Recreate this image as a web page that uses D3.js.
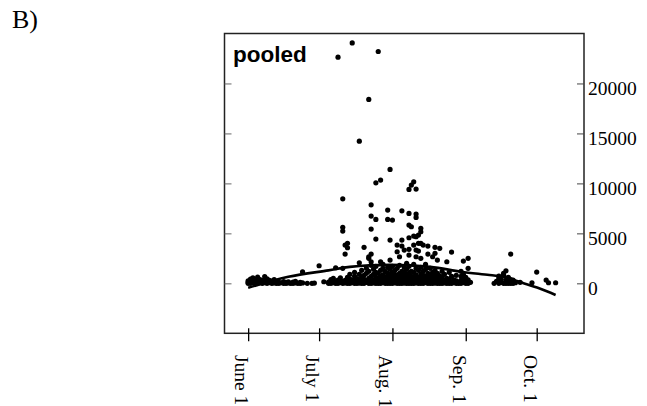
<!DOCTYPE html>
<html>
<head>
<meta charset="utf-8">
<script src="https://cdn.jsdelivr.net/npm/d3@7"></script>
<style>
  body { margin: 0; background: #fff; }
  svg { display: block; }
</style>
</head>
<body>
<svg id="chart" width="647" height="406"></svg>
<script>
// observations per sampling day: [date, counts]
const obs = [
  ['Jun 1', [0, 120, 260]],
  ['Jun 2', [0, 180, 420]],
  ['Jun 3', [40, 300, 560]],
  ['Jun 4', [0, 150, 340]],
  ['Jun 5', [0, 230, 620]],
  ['Jun 6', [90, 380]],
  ['Jun 7', [0, 210, 310]],
  ['Jun 8', [60, 330, 680]],
  ['Jun 9', [0, 160, 450]],
  ['Jun 10', [80, 290]],
  ['Jun 11', [0, 220]],
  ['Jun 12', [40, 380]],
  ['Jun 13', [0, 140]],
  ['Jun 14', [0, 90]],
  ['Jun 15', [60]],
  ['Jun 16', [0, 180]],
  ['Jun 17', [0, 110]],
  ['Jun 18', [40, 160]],
  ['Jun 19', [0]],
  ['Jun 20', [0, 120]],
  ['Jun 21', [50, 200]],
  ['Jun 22', [0]],
  ['Jun 23', [0, 90]],
  ['Jun 24', [1150, 40]],
  ['Jun 26', [0]],
  ['Jun 28', [0]],
  ['Jun 29', [30]],
  ['Jul 1', [1760]],
  ['Jul 3', [160]],
  ['Jul 5', [0, 120]],
  ['Jul 6', [0, 200, 380]],
  ['Jul 7', [60, 260, 500]],
  ['Jul 8', [0, 150, 1560]],
  ['Jul 9', [0, 320, 22630]],
  ['Jul 10', [80, 240, 560]],
  ['Jul 11', [0, 180, 1500, 5230, 5600, 8460]],
  ['Jul 12', [40, 300, 2930, 3830]],
  ['Jul 13', [0, 220, 600, 3560, 4000]],
  ['Jul 14', [0, 150, 420, 900]],
  ['Jul 15', [60, 330, 24060]],
  ['Jul 16', [0, 260, 700, 1100]],
  ['Jul 17', [0, 120, 480]],
  ['Jul 18', [30, 350, 900, 2060, 14230]],
  ['Jul 19', [0, 200, 620, 1300]],
  ['Jul 20', [0, 400, 800, 3600]],
  ['Jul 21', [90, 280, 1000, 1500]],
  ['Jul 22', [0, 500, 1200, 2500, 2660, 18400]],
  ['Jul 23', [0, 150, 700, 1800, 2160, 2930, 5430, 6730, 7860]],
  ['Jul 24', [40, 360, 900, 1400]],
  ['Jul 25', [0, 250, 600, 1100, 1700, 4430, 6400, 10060]],
  ['Jul 26', [0, 450, 1000, 23200]],
  ['Jul 27', [0, 180, 700, 1300, 2160, 10330]],
  ['Jul 28', [60, 400, 850, 1500, 1900]],
  ['Jul 29', [0, 300, 650, 1200]],
  ['Jul 30', [0, 120, 550, 1000, 1600, 6400, 7330]],
  ['Jul 31', [0, 350, 800, 1400, 2330, 4330, 11400]],
  ['Aug 1', [0, 200, 600, 1100, 1700, 6330]],
  ['Aug 2', [50, 400, 900, 1300]],
  ['Aug 3', [0, 250, 700, 1500, 3160, 3830]],
  ['Aug 4', [0, 150, 500, 1000, 1800, 2660]],
  ['Aug 5', [0, 350, 800, 1200, 3730, 4330, 7260]],
  ['Aug 6', [30, 200, 600, 1100, 1600, 3330]],
  ['Aug 7', [0, 450, 900, 1400, 2000]],
  ['Aug 8', [0, 100, 550, 1000, 1700, 2830, 3400, 4560, 5830, 7000, 9400]],
  ['Aug 9', [0, 300, 700, 1200, 5660, 9830]],
  ['Aug 10', [0, 180, 650, 1100, 1900, 3830, 4730, 10160]],
  ['Aug 11', [40, 400, 850, 1500, 2660, 3330, 4660, 6600, 6930, 9430]],
  ['Aug 12', [0, 250, 600, 1300, 3230, 4000, 4830]],
  ['Aug 13', [0, 120, 500, 950, 1600, 2500, 4000, 5160, 5500]],
  ['Aug 14', [0, 350, 800, 1200, 3830]],
  ['Aug 15', [60, 280, 700, 1400, 1900]],
  ['Aug 16', [0, 150, 600, 1000, 2930, 3730]],
  ['Aug 17', [0, 400, 900, 1500]],
  ['Aug 18', [0, 220, 650, 1100, 2660]],
  ['Aug 19', [30, 300, 800, 1300, 3000, 3600]],
  ['Aug 20', [0, 180, 500, 1000, 2330]],
  ['Aug 21', [0, 350, 750, 3500]],
  ['Aug 22', [0, 150, 600, 1200]],
  ['Aug 23', [40, 300, 900]],
  ['Aug 24', [0, 200, 500, 2160]],
  ['Aug 25', [0, 400, 1100]],
  ['Aug 26', [0, 150, 700, 3130]],
  ['Aug 27', [60, 350]],
  ['Aug 28', [0, 250, 800]],
  ['Aug 29', [0, 120]],
  ['Aug 30', [0, 300, 700, 1200]],
  ['Aug 31', [80, 500, 900, 2230]],
  ['Sep 1', [0, 200, 600]],
  ['Sep 2', [0, 350, 1500, 2500]],
  ['Sep 3', [100]],
  ['Sep 13', [0]],
  ['Sep 14', [200]],
  ['Sep 15', [0, 500, 730]],
  ['Sep 16', [100, 400]],
  ['Sep 17', [0, 830, 1000]],
  ['Sep 18', [0, 330, 1260]],
  ['Sep 19', [0, 150, 600]],
  ['Sep 20', [0, 330, 2930]],
  ['Sep 21', [0, 330]],
  ['Sep 22', [60]],
  ['Sep 24', [100]],
  ['Sep 29', [60]],
  ['Oct 1', [1130]],
  ['Oct 5', [330]],
  ['Oct 6', [60]],
  ['Oct 9', [60]]
];

// fitted seasonal curve
const fitDates = ['Jun 1', 'Jun 18', 'Jul 5', 'Jul 14', 'Jul 31', 'Aug 17', 'Aug 30', 'Sep 11', 'Sep 19', 'Sep 23', 'Oct 2', 'Oct 9'];
const fitValues = [-450, 650, 1300, 1650, 1850, 1650, 1160, 830, 580, 200, -500, -1170];

const xTickDates = ['Jun 1', 'Jul 1', 'Aug 1', 'Sep 1', 'Oct 1'];
const xTickLabels = ['June 1', 'July 1', 'Aug. 1', 'Sep. 1', 'Oct. 1'];
const yTicks = [0, 5000, 10000, 15000, 20000];

const parse = d3.timeParse('%b %d');
const serif = "'Liberation Serif', 'Times New Roman', serif";

const plotLeft = 224.5, plotRight = 584, plotTop = 33.5, plotBottom = 333.3;

const x = d3.scaleTime()
  .domain([parse('May 22'), parse('Oct 21')])
  .range([plotLeft, plotRight]);

const y = d3.scaleLinear()
  .domain([-5000, 25000])
  .range([plotBottom, plotTop]);

const svg = d3.select('#chart');

svg.append('text')
  .attr('x', 12)
  .attr('y', 28)
  .attr('font-family', serif)
  .attr('font-size', 26)
  .text('B)');

// points
const points = [];
obs.forEach(([d, vals]) => vals.forEach(v => points.push({date: parse(d), value: v})));

svg.append('g')
  .selectAll('circle')
  .data(points)
  .enter().append('circle')
  .attr('cx', d => x(d.date))
  .attr('cy', d => y(d.value))
  .attr('r', 2.6)
  .attr('fill', '#000');

// fitted line
const fit = fitDates.map((d, i) => ({date: parse(d), value: fitValues[i]}));
svg.append('path')
  .datum(fit)
  .attr('fill', 'none')
  .attr('stroke', '#000')
  .attr('stroke-width', 2.6)
  .attr('d', d3.line()
    .x(d => x(d.date))
    .y(d => y(d.value))
    .curve(d3.curveCatmullRom));

// frame
svg.append('rect')
  .attr('x', plotLeft)
  .attr('y', plotTop)
  .attr('width', plotRight - plotLeft)
  .attr('height', plotBottom - plotTop)
  .attr('fill', 'none')
  .attr('stroke', '#222')
  .attr('stroke-width', 1.5);

// right axis, ticks pointing inward
const yAxis = svg.append('g')
  .attr('transform', 'translate(' + plotRight + ',0)')
  .call(d3.axisRight(y).tickValues(yTicks).tickFormat(d3.format('d'))
    .tickSizeInner(-7).tickSizeOuter(0).tickPadding(4));
yAxis.select('.domain').remove();
yAxis.selectAll('line').attr('stroke', '#444');
yAxis.selectAll('text')
  .attr('font-family', serif)
  .attr('font-size', 19.5)
  .attr('fill', '#000')
  .attr('dy', '0.72em')
  .attr('y', -3);

// short inward ticks on the left edge
const yLeft = svg.append('g')
  .attr('transform', 'translate(' + plotLeft + ',0)')
  .call(d3.axisLeft(y).tickValues(yTicks).tickSizeInner(-7).tickSizeOuter(0).tickFormat(''));
yLeft.select('.domain').remove();
yLeft.selectAll('line').attr('stroke', '#666');

// bottom axis, ticks cross the frame line
const xAxis = svg.append('g')
  .attr('transform', 'translate(0,' + plotBottom + ')')
  .call(d3.axisBottom(x).tickValues(xTickDates.map(parse)).tickSizeOuter(0).tickFormat(''));
xAxis.select('.domain').remove();
xAxis.selectAll('line')
  .attr('y1', -5)
  .attr('y2', 8)
  .attr('stroke', '#000')
  .attr('stroke-width', 1.3);

svg.append('g')
  .selectAll('text')
  .data(xTickDates)
  .enter().append('text')
  .attr('transform', d => 'translate(' + (x(parse(d)) - 13) + ',355) rotate(90)')
  .attr('font-family', serif)
  .attr('font-size', 19.5)
  .text((d, i) => xTickLabels[i]);

svg.append('text')
  .attr('x', 233)
  .attr('y', 62)
  .attr('font-family', "'Liberation Sans', Arial, sans-serif")
  .attr('font-weight', 'bold')
  .attr('font-size', 22.5)
  .text('pooled');
</script>
</body>
</html>
